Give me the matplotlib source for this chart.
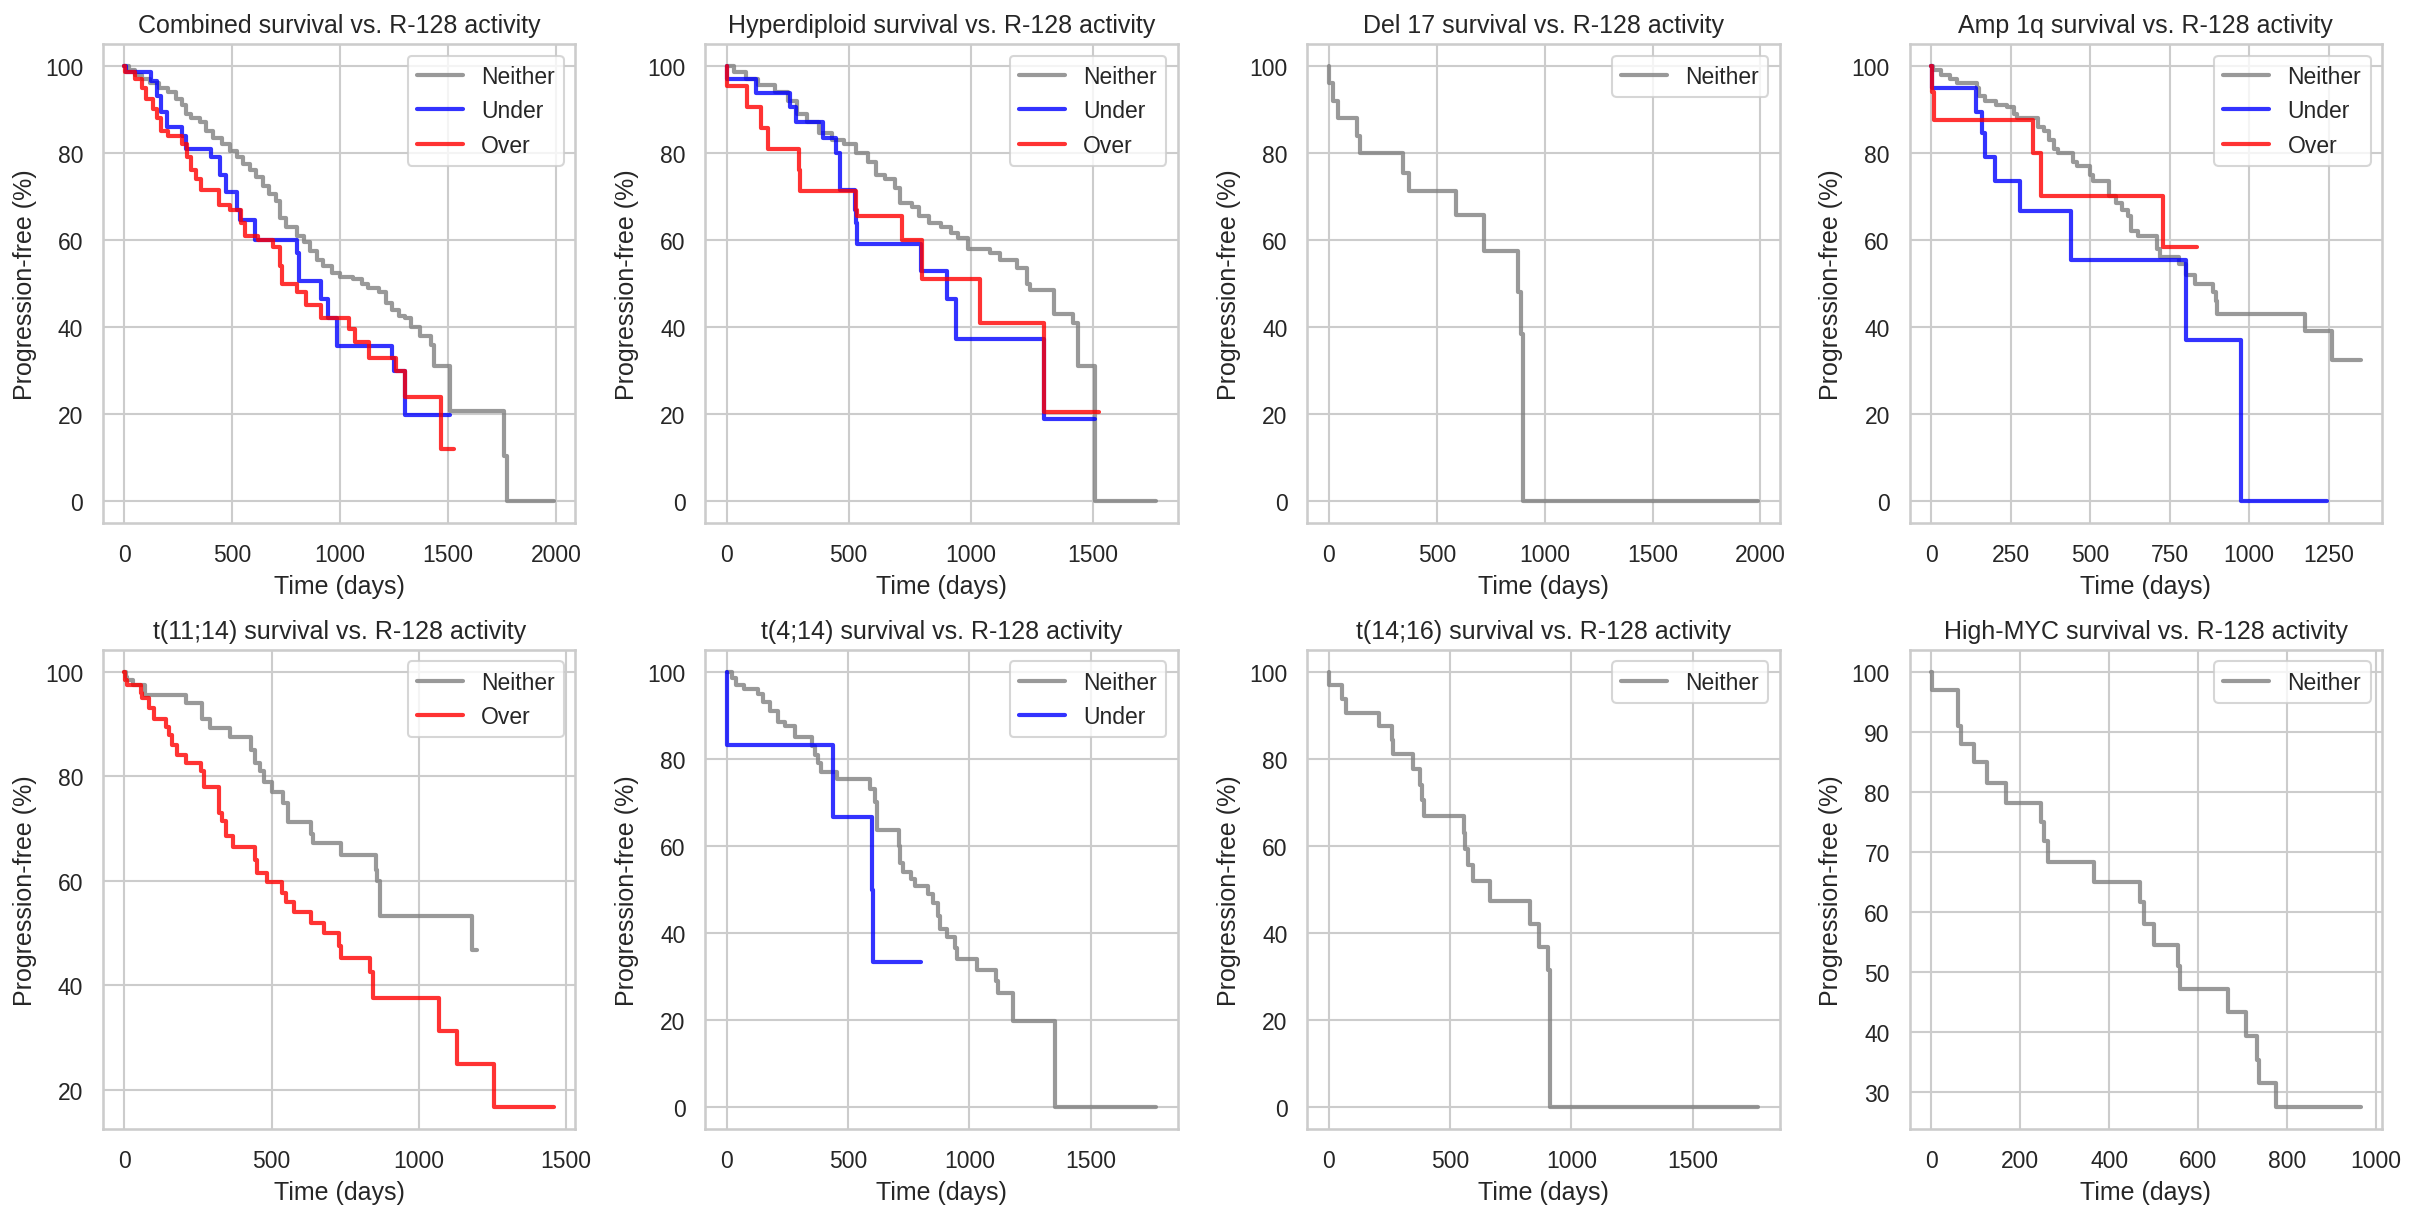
import matplotlib
matplotlib.use("Agg")
import matplotlib.pyplot as plt
import seaborn as sns

sns.set_theme(style="whitegrid")
plt.rcParams['font.family'] = ['Liberation Sans', 'DejaVu Sans']

# step curves, (time in days, progression-free %)
combined_neither_t = [0, 20, 50, 80, 120, 160, 200, 240, 265, 285, 310, 350, 380, 410, 450, 490, 520, 550, 580, 610, 640, 670, 700, 720, 750, 800, 830, 860, 890, 920, 960, 1000, 1060, 1100, 1130, 1180, 1210, 1240, 1270, 1300, 1330, 1370, 1420, 1435, 1510, 1760, 1775, 1990]
combined_neither_s = [100, 99, 98, 97, 96, 95, 94, 92.5, 91, 89, 88, 87, 85, 83.5, 82, 80.5, 79, 77.5, 76, 74.5, 72.5, 70.5, 69, 65, 63, 61, 59.5, 57.5, 55.5, 54, 52.5, 51.5, 51, 50, 49, 48, 45.5, 44, 42.5, 42, 40, 38, 36, 31, 20.7, 10.5, 0, 0]
combined_under_t = [0, 5, 125, 150, 170, 195, 265, 285, 400, 445, 470, 520, 535, 605, 800, 810, 910, 945, 985, 1240, 1250, 1300, 1510]
combined_under_s = [100, 98.5, 96.5, 93, 89.5, 86, 84, 81, 79, 75, 71, 67, 64.5, 60, 57, 50.7, 46.5, 42, 35.7, 33, 30, 19.8, 19.8]
combined_over_t = [0, 3, 50, 80, 100, 130, 150, 170, 200, 265, 290, 310, 330, 355, 440, 490, 540, 560, 620, 690, 720, 730, 800, 840, 910, 1040, 1070, 1135, 1260, 1300, 1465, 1525]
combined_over_s = [100, 98.5, 97, 95, 92.5, 90, 88, 85, 84, 82, 79, 76, 74, 71.5, 68, 67, 64, 61, 60, 58.5, 54, 50, 48, 45, 42, 39.5, 36.5, 33, 30, 24, 12, 12]

hyper_neither_t = [0, 30, 80, 130, 200, 250, 290, 330, 380, 430, 480, 530, 580, 610, 650, 690, 710, 760, 790, 830, 880, 920, 950, 990, 1080, 1120, 1190, 1230, 1245, 1340, 1420, 1440, 1510, 1760]
hyper_neither_s = [100, 98.5, 97, 95.5, 94, 92, 89, 87, 84.5, 83, 82, 80, 78, 75, 74, 72, 68.5, 67.5, 65.5, 64, 63, 61.5, 60.5, 58, 57, 55.5, 53.5, 50, 48.5, 43, 41, 31, 0, 0]
hyper_under_t = [0, 2, 120, 260, 285, 395, 450, 465, 525, 530, 535, 795, 905, 940, 1300, 1510]
hyper_under_s = [100, 97, 93.7, 90.5, 87, 83.5, 80, 71.5, 67, 64, 59, 53, 46.5, 37.3, 19, 19]
hyper_over_t = [0, 2, 85, 140, 170, 295, 300, 530, 535, 720, 800, 1040, 1300, 1525]
hyper_over_s = [100, 95.3, 90.5, 85.7, 81, 76, 71.3, 67, 65.5, 60, 51, 41, 20.5, 20.5]

del17_neither_t = [0, 2, 20, 40, 130, 145, 345, 370, 590, 720, 875, 890, 900, 1990]
del17_neither_s = [100, 96, 92, 88, 84, 80, 75.5, 71.3, 65.7, 57.5, 48, 38.5, 0, 0]

amp1q_neither_t = [0, 5, 30, 60, 80, 145, 150, 170, 205, 240, 260, 270, 335, 355, 370, 385, 400, 445, 460, 500, 510, 560, 580, 600, 620, 630, 650, 710, 720, 780, 800, 830, 885, 895, 900, 1175, 1260, 1350]
amp1q_neither_s = [100, 99, 98, 97, 96, 95, 93, 92, 91, 90.5, 89, 88, 86, 85, 83, 81, 80, 78, 77, 75, 73.5, 70, 68.5, 67, 65.5, 62, 61, 58, 56, 54.5, 52, 50, 48, 46, 43, 39, 32.5, 32.5]
amp1q_under_t = [0, 2, 140, 160, 170, 200, 278, 440, 800, 975, 1245]
amp1q_under_s = [100, 95, 89.5, 84.5, 79, 73.5, 66.7, 55.5, 37, 0, 0]
amp1q_over_t = [0, 2, 10, 320, 345, 730, 835]
amp1q_over_s = [100, 94, 87.5, 80, 70, 58.3, 58.3]

t1114_neither_t = [0, 5, 10, 30, 70, 210, 265, 290, 360, 430, 445, 460, 475, 500, 540, 555, 635, 640, 735, 855, 860, 870, 1180, 1200]
t1114_neither_s = [100, 99, 98.5, 97.5, 95.5, 94, 91, 89.3, 87.5, 85, 82.5, 81, 79, 77, 75, 71.3, 69, 67.3, 65, 62, 60, 53.3, 46.7, 46.7]
t1114_over_t = [0, 3, 10, 55, 60, 85, 100, 140, 150, 160, 180, 210, 260, 270, 320, 330, 345, 370, 445, 450, 485, 535, 550, 575, 635, 680, 730, 735, 835, 845, 1070, 1130, 1255, 1460]
t1114_over_s = [100, 98.5, 97.5, 96, 95, 93, 91, 89.5, 88, 86, 84, 82.5, 81, 78, 73, 71.5, 68.5, 66.5, 64, 61.5, 59.7, 57.7, 56, 54, 52, 50, 47.5, 45.2, 42.5, 37.7, 31.2, 25, 16.7, 16.7]

t414_neither_t = [0, 20, 40, 70, 130, 150, 180, 210, 240, 280, 350, 365, 375, 390, 455, 590, 610, 620, 710, 715, 725, 760, 775, 830, 850, 870, 880, 910, 940, 950, 1030, 1110, 1120, 1180, 1355, 1770]
t414_neither_s = [100, 98.5, 97, 96, 95, 93, 91, 88.5, 87.5, 85, 83, 81, 79, 77, 75.3, 73, 70, 63.7, 60, 56, 54, 52.5, 50.7, 49, 47, 44, 41, 39, 36.5, 34, 31.5, 29, 26.2, 19.7, 0, 0]
t414_under_t = [0, 2, 440, 600, 605, 800]
t414_under_s = [100, 83.3, 66.7, 50, 33.3, 33.3]

t1416_neither_t = [0, 2, 55, 70, 205, 260, 265, 345, 375, 385, 390, 555, 560, 575, 595, 665, 830, 865, 905, 910, 1770]
t1416_neither_s = [100, 96.9, 93.8, 90.6, 87.5, 84.4, 81.2, 77.7, 74, 70.5, 66.8, 63, 59.4, 55.7, 52, 47.4, 42.1, 36.8, 31.5, 0, 0]

myc_neither_t = [0, 2, 60, 68, 97, 125, 168, 247, 253, 262, 367, 470, 478, 500, 555, 560, 668, 708, 733, 738, 775, 965]
myc_neither_s = [100, 97, 91, 88, 85, 81.5, 78.2, 75, 71.8, 68.4, 65, 61.6, 58, 54.5, 51, 47.2, 43.3, 39.4, 35.4, 31.5, 27.5, 27.5]

groups = ["Combined", "Hyperdiploid", "Del 17", "Amp 1q", "t(11;14)", "t(4;14)", "t(14;16)", "High-MYC"]
curves = [
    [("Neither", combined_neither_t, combined_neither_s), ("Under", combined_under_t, combined_under_s), ("Over", combined_over_t, combined_over_s)],
    [("Neither", hyper_neither_t, hyper_neither_s), ("Under", hyper_under_t, hyper_under_s), ("Over", hyper_over_t, hyper_over_s)],
    [("Neither", del17_neither_t, del17_neither_s)],
    [("Neither", amp1q_neither_t, amp1q_neither_s), ("Under", amp1q_under_t, amp1q_under_s), ("Over", amp1q_over_t, amp1q_over_s)],
    [("Neither", t1114_neither_t, t1114_neither_s), ("Over", t1114_over_t, t1114_over_s)],
    [("Neither", t414_neither_t, t414_neither_s), ("Under", t414_under_t, t414_under_s)],
    [("Neither", t1416_neither_t, t1416_neither_s)],
    [("Neither", myc_neither_t, myc_neither_s)],
]
colors = {"Neither": "gray", "Under": "blue", "Over": "red"}

fig, axes = plt.subplots(2, 4, figsize=(16.12, 8.12), dpi=150)
for ax, name, group in zip(axes.flat, groups, curves):
    for label, t, s in group:
        ax.step(t, s, where="post", color=colors[label], alpha=0.8, lw=2, label=label)
    ax.set_title(name + " survival vs. R-128 activity")
    ax.set_xlabel("Time (days)")
    ax.set_ylabel("Progression-free (%)")
    ax.legend(loc="upper right")

fig.subplots_adjust(left=0.0426, right=0.9851, top=0.963, bottom=0.0722, wspace=0.275, hspace=0.265)
plt.savefig("out.png", dpi=150)
